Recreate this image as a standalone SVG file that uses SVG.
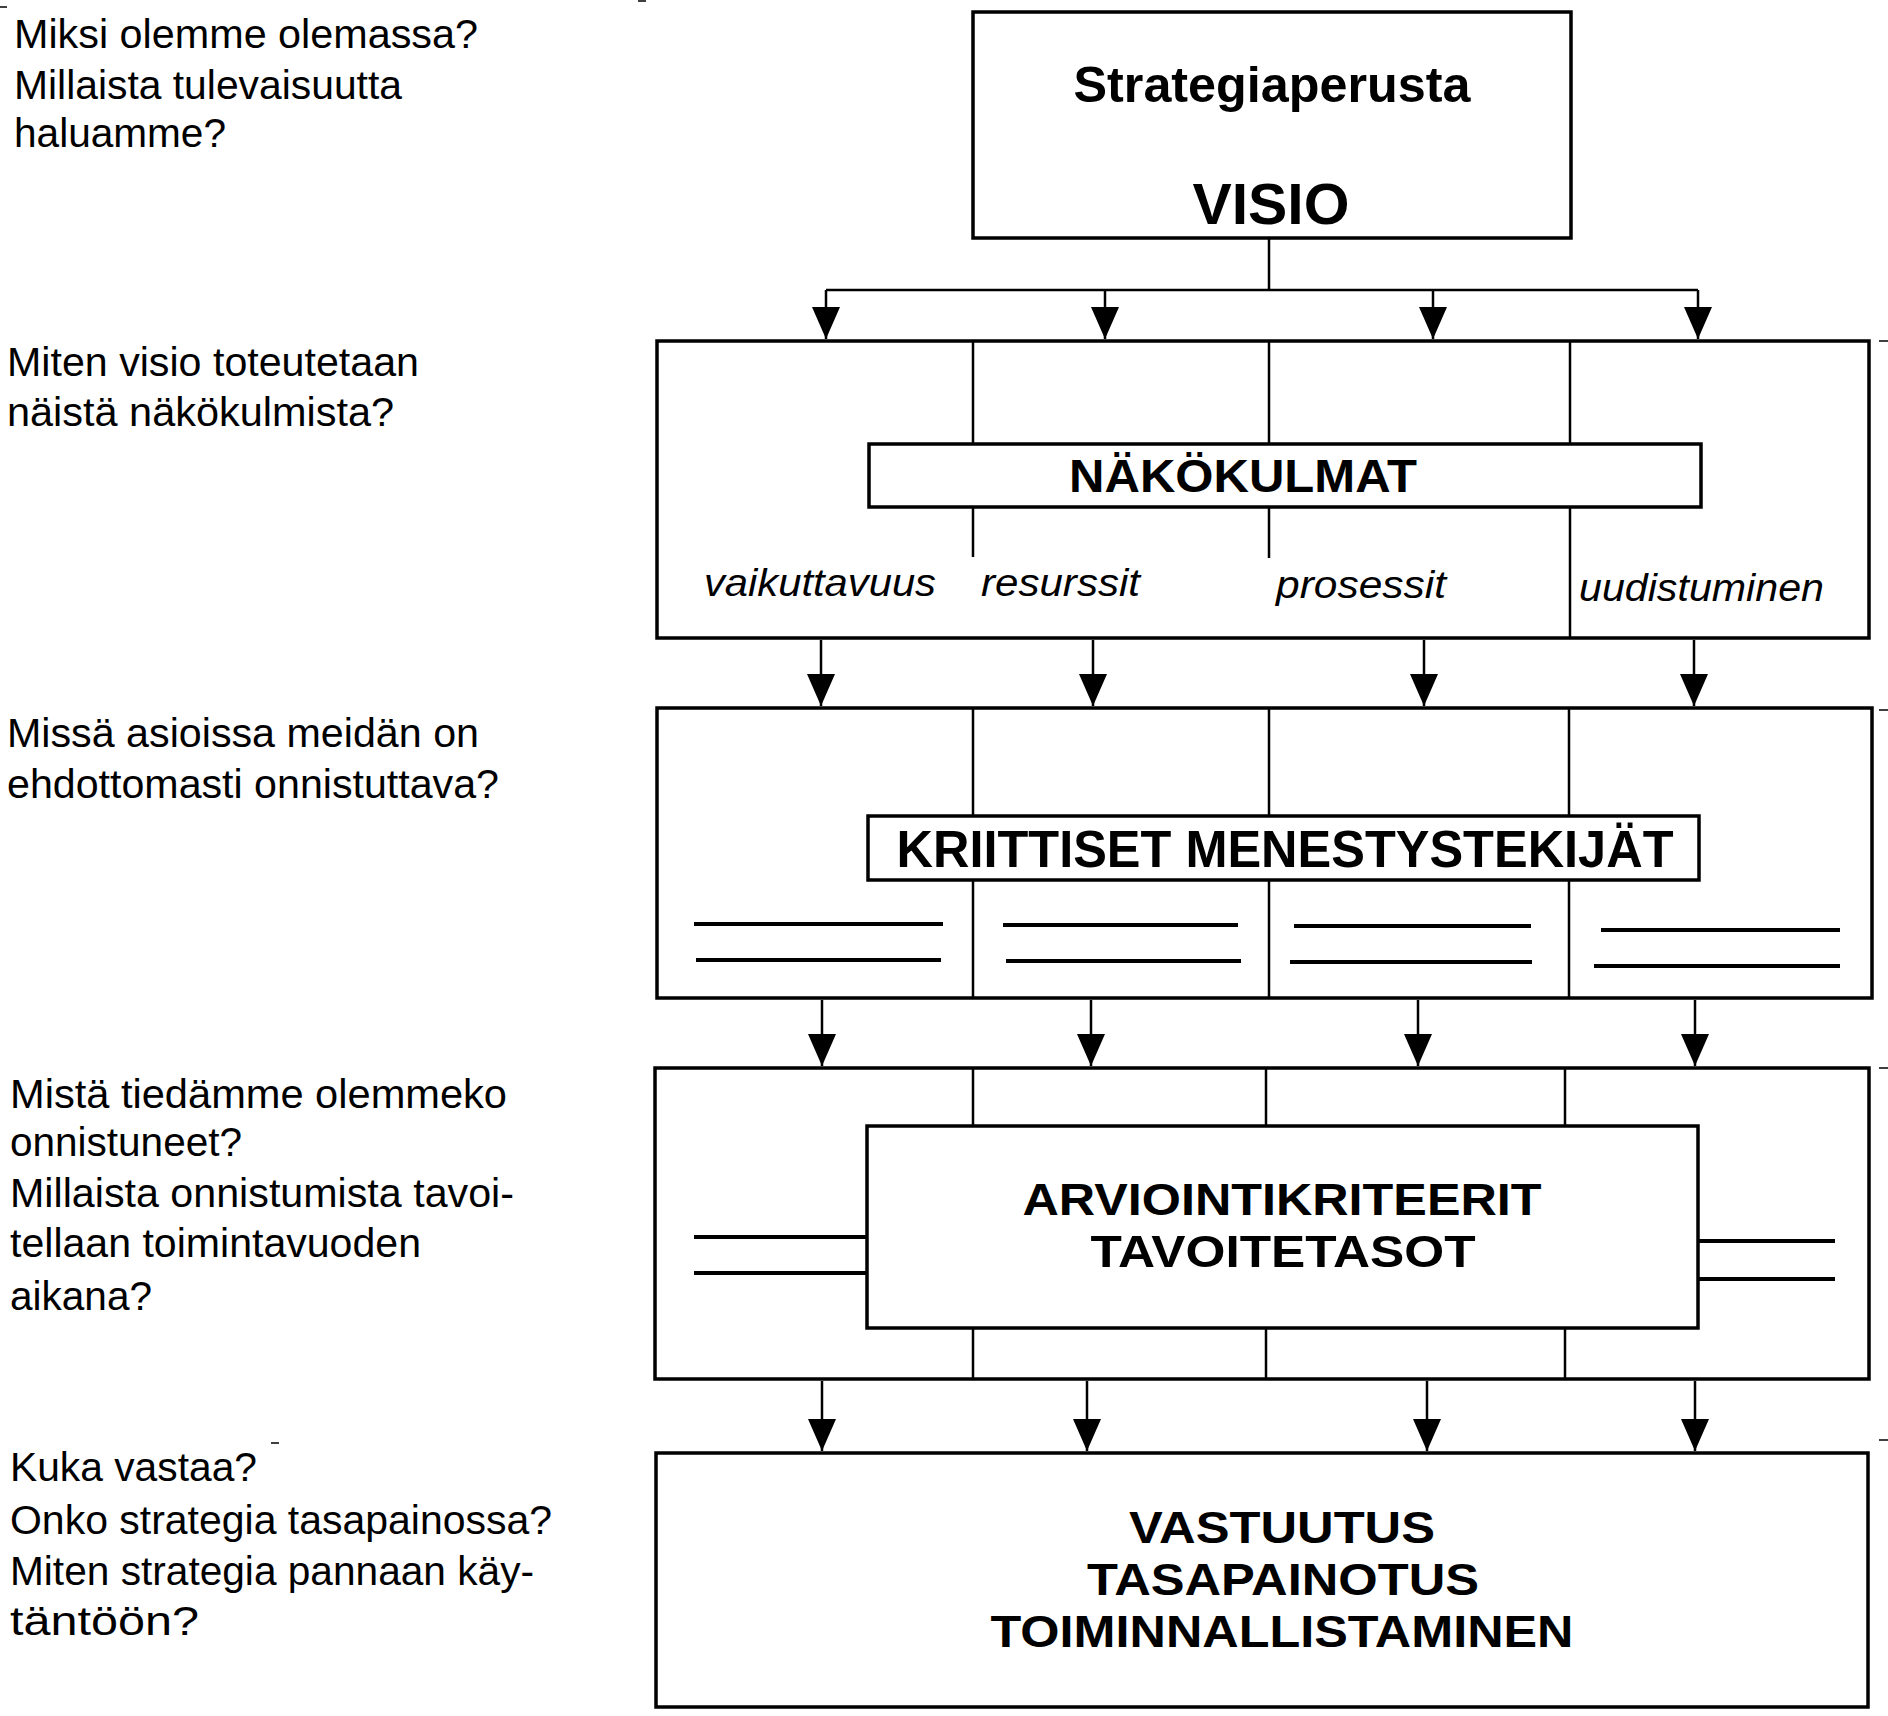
<svg xmlns="http://www.w3.org/2000/svg" width="1888" height="1716" viewBox="0 0 1888 1716">
<style>
.box{fill:#fff;stroke:#000;stroke-width:3.5}
.div{stroke:#000;stroke-width:2.5;fill:none}
.rule{stroke:#000;stroke-width:4;fill:none}
.con{stroke:#000;stroke-width:2.5;fill:none}
.q{font-family:"Liberation Sans",Arial,sans-serif;font-size:40px;fill:#000}
.h{font-family:"Liberation Sans",Arial,sans-serif;font-weight:bold;fill:#000;text-anchor:middle}
.ml{font-size:45px}
.it{font-family:"Liberation Sans",Arial,sans-serif;font-style:italic;font-size:38px;fill:#000}
.tick{stroke:#000;stroke-width:1.5}
</style>
<defs>
<marker id="ah" viewBox="0 0 32 28" refX="32" refY="14" markerWidth="32" markerHeight="28" markerUnits="userSpaceOnUse" orient="auto">
<path d="M0,0 L32,14 L0,28 z" fill="#000"/>
</marker>
</defs>
<rect width="1888" height="1716" fill="#fff"/>

<g id="questions">
<text class="q" x="14" y="48" textLength="464" lengthAdjust="spacingAndGlyphs">Miksi olemme olemassa?</text>
<text class="q" x="14" y="99" textLength="388" lengthAdjust="spacingAndGlyphs">Millaista tulevaisuutta</text>
<text class="q" x="14" y="147" textLength="212" lengthAdjust="spacingAndGlyphs">haluamme?</text>
<text class="q" x="7" y="376" textLength="412" lengthAdjust="spacingAndGlyphs">Miten visio toteutetaan</text>
<text class="q" x="7" y="426" textLength="387" lengthAdjust="spacingAndGlyphs">näistä näkökulmista?</text>
<text class="q" x="7" y="747" textLength="472" lengthAdjust="spacingAndGlyphs">Missä asioissa meidän on</text>
<text class="q" x="7" y="798" textLength="492" lengthAdjust="spacingAndGlyphs">ehdottomasti onnistuttava?</text>
<text class="q" x="10" y="1108" textLength="497" lengthAdjust="spacingAndGlyphs">Mistä tiedämme olemmeko</text>
<text class="q" x="10" y="1156" textLength="232" lengthAdjust="spacingAndGlyphs">onnistuneet?</text>
<text class="q" x="10" y="1207" textLength="504" lengthAdjust="spacingAndGlyphs">Millaista onnistumista tavoi-</text>
<text class="q" x="10" y="1257" textLength="411" lengthAdjust="spacingAndGlyphs">tellaan toimintavuoden</text>
<text class="q" x="10" y="1310" textLength="142" lengthAdjust="spacingAndGlyphs">aikana?</text>
<text class="q" x="10" y="1481" textLength="247" lengthAdjust="spacingAndGlyphs">Kuka vastaa?</text>
<text class="q" x="10" y="1534" textLength="542" lengthAdjust="spacingAndGlyphs">Onko strategia tasapainossa?</text>
<text class="q" x="10" y="1585" textLength="524" lengthAdjust="spacingAndGlyphs">Miten strategia pannaan käy-</text>
<text class="q" x="10" y="1635" textLength="189" lengthAdjust="spacingAndGlyphs">täntöön?</text>
</g>

<g id="connectors">
<polyline class="con" points="1269,238 1269,290"/>
<line class="con" x1="826" y1="290" x2="1698" y2="290"/>
<line class="con" x1="826" y1="290" x2="826" y2="339" marker-end="url(#ah)"/>
<line class="con" x1="1105" y1="290" x2="1105" y2="339" marker-end="url(#ah)"/>
<line class="con" x1="1433" y1="290" x2="1433" y2="339" marker-end="url(#ah)"/>
<line class="con" x1="1698" y1="290" x2="1698" y2="339" marker-end="url(#ah)"/>

<line class="con" x1="821" y1="640" x2="821" y2="706" marker-end="url(#ah)"/>
<line class="con" x1="1093" y1="640" x2="1093" y2="706" marker-end="url(#ah)"/>
<line class="con" x1="1424" y1="640" x2="1424" y2="706" marker-end="url(#ah)"/>
<line class="con" x1="1694" y1="640" x2="1694" y2="706" marker-end="url(#ah)"/>

<line class="con" x1="822" y1="1000" x2="822" y2="1066" marker-end="url(#ah)"/>
<line class="con" x1="1091" y1="1000" x2="1091" y2="1066" marker-end="url(#ah)"/>
<line class="con" x1="1418" y1="1000" x2="1418" y2="1066" marker-end="url(#ah)"/>
<line class="con" x1="1695" y1="1000" x2="1695" y2="1066" marker-end="url(#ah)"/>

<line class="con" x1="822" y1="1381" x2="822" y2="1451" marker-end="url(#ah)"/>
<line class="con" x1="1087" y1="1381" x2="1087" y2="1451" marker-end="url(#ah)"/>
<line class="con" x1="1427" y1="1381" x2="1427" y2="1451" marker-end="url(#ah)"/>
<line class="con" x1="1695" y1="1381" x2="1695" y2="1451" marker-end="url(#ah)"/>
</g>

<g id="visio">
<rect class="box" x="973" y="12" width="598" height="226"/>
<text class="h" x="1272" y="102" font-size="50" textLength="397" lengthAdjust="spacingAndGlyphs">Strategiaperusta</text>
<text class="h" x="1271" y="224" font-size="57" textLength="157" lengthAdjust="spacingAndGlyphs">VISIO</text>
</g>

<g id="nakokulmat">
<rect class="box" x="657" y="341" width="1212" height="297"/>
<line class="div" x1="973" y1="341" x2="973" y2="444"/>
<line class="div" x1="1269" y1="341" x2="1269" y2="444"/>
<line class="div" x1="1570" y1="341" x2="1570" y2="444"/>
<line class="div" x1="973" y1="507" x2="973" y2="557"/>
<line class="div" x1="1269" y1="507" x2="1269" y2="558"/>
<line class="div" x1="1570" y1="507" x2="1570" y2="638"/>
<rect class="box" x="869" y="444" width="832" height="63"/>
<text class="h" x="1243" y="492" font-size="46" textLength="348" lengthAdjust="spacingAndGlyphs">NÄKÖKULMAT</text>
<text class="it" x="704" y="596" textLength="232" lengthAdjust="spacingAndGlyphs">vaikuttavuus</text>
<text class="it" x="981" y="596" textLength="159" lengthAdjust="spacingAndGlyphs">resurssit</text>
<text class="it" x="1276" y="598" textLength="170" lengthAdjust="spacingAndGlyphs">prosessit</text>
<text class="it" x="1579" y="601" textLength="245" lengthAdjust="spacingAndGlyphs">uudistuminen</text>
</g>

<g id="kriittiset">
<rect class="box" x="657" y="708" width="1215" height="290"/>
<line class="div" x1="973" y1="708" x2="973" y2="998"/>
<line class="div" x1="1269" y1="708" x2="1269" y2="998"/>
<line class="div" x1="1569" y1="708" x2="1569" y2="998"/>
<rect class="box" x="868" y="816" width="831" height="64"/>
<text class="h" x="1285" y="867" font-size="52" textLength="777" lengthAdjust="spacingAndGlyphs">KRIITTISET MENESTYSTEKIJÄT</text>
<line class="rule" x1="694" y1="924" x2="943" y2="924"/>
<line class="rule" x1="696" y1="960" x2="941" y2="960"/>
<line class="rule" x1="1003" y1="925" x2="1238" y2="925"/>
<line class="rule" x1="1006" y1="961" x2="1241" y2="961"/>
<line class="rule" x1="1294" y1="926" x2="1531" y2="926"/>
<line class="rule" x1="1290" y1="962" x2="1532" y2="962"/>
<line class="rule" x1="1601" y1="930" x2="1840" y2="930"/>
<line class="rule" x1="1594" y1="966" x2="1840" y2="966"/>
</g>

<g id="arviointi">
<rect class="box" x="655" y="1068" width="1214" height="311"/>
<line class="div" x1="973" y1="1068" x2="973" y2="1126"/>
<line class="div" x1="1266" y1="1068" x2="1266" y2="1126"/>
<line class="div" x1="1565" y1="1068" x2="1565" y2="1126"/>
<line class="div" x1="973" y1="1328" x2="973" y2="1379"/>
<line class="div" x1="1266" y1="1328" x2="1266" y2="1379"/>
<line class="div" x1="1565" y1="1328" x2="1565" y2="1379"/>
<line class="rule" x1="694" y1="1237" x2="867" y2="1237"/>
<line class="rule" x1="694" y1="1273" x2="867" y2="1273"/>
<line class="rule" x1="1698" y1="1241" x2="1835" y2="1241"/>
<line class="rule" x1="1698" y1="1279" x2="1835" y2="1279"/>
<rect class="box" x="867" y="1126" width="831" height="202"/>
<text class="h ml" x="1282" y="1215" textLength="519" lengthAdjust="spacingAndGlyphs">ARVIOINTIKRITEERIT</text>
<text class="h ml" x="1283" y="1267" textLength="385" lengthAdjust="spacingAndGlyphs">TAVOITETASOT</text>
</g>

<g id="vastuutus">
<rect class="box" x="656" y="1453" width="1212" height="254"/>
<text class="h ml" x="1282" y="1543" textLength="306" lengthAdjust="spacingAndGlyphs">VASTUUTUS</text>
<text class="h ml" x="1283" y="1595" textLength="392" lengthAdjust="spacingAndGlyphs">TASAPAINOTUS</text>
<text class="h ml" x="1282" y="1647" textLength="583" lengthAdjust="spacingAndGlyphs">TOIMINNALLISTAMINEN</text>
</g>

<g id="marks">
<line class="tick" x1="0" y1="7" x2="7" y2="7"/>
<line class="tick" x1="638" y1="1" x2="646" y2="1"/>
<line class="tick" x1="1879" y1="341" x2="1888" y2="341"/>
<line class="tick" x1="1879" y1="710" x2="1888" y2="710"/>
<line class="tick" x1="1879" y1="1068" x2="1888" y2="1068"/>
<line class="tick" x1="1879" y1="1440" x2="1888" y2="1440"/>
<line class="tick" x1="271" y1="1443" x2="279" y2="1443"/>
</g>
</svg>
